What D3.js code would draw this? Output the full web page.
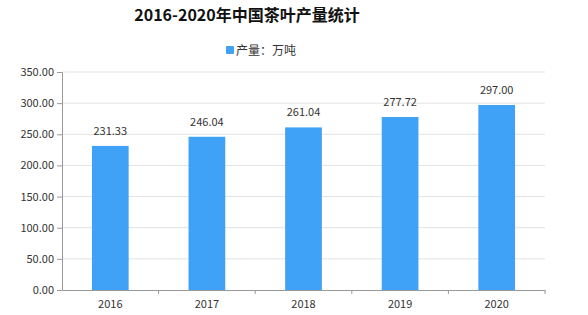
<!DOCTYPE html>
<html>
<head>
<meta charset="utf-8">
<script src="https://cdn.jsdelivr.net/npm/d3@7"></script>
<style>
body { margin: 0; background: #fff; }
text { font-family: "Noto Sans CJK SC", "DejaVu Sans", sans-serif; }
</style>
</head>
<body>
<div class="container"></div>
<script>
var years = ["2016", "2017", "2018", "2019", "2020"];
var output = [231.33, 246.04, 261.04, 277.72, 297.00];
var yTicks = [0, 50, 100, 150, 200, 250, 300, 350];

const WIDTH = 588;
const HEIGHT = 315;
const LEFT = 62, RIGHT = 545, TOP = 72, BOTTOM = 290;
const BAR_COLOR = "#3fa2f6";

var translate = function(x, y){
	return "translate(" + x + "," + y + ")";
};

var svg = d3.select('.container').append('svg')
	.attr('width', WIDTH)
	.attr('height', HEIGHT);

var xScale = d3.scaleBand()
	.domain(years)
	.range([LEFT, RIGHT]);

var yScale = d3.scaleLinear()
	.domain([0, 350])
	.range([BOTTOM, TOP]);

// title
svg.append('text')
	.attr('x', 247).attr('y', 21)
	.attr('text-anchor', 'middle')
	.style('font-size', '16px')
	.style('font-weight', 'bold')
	.attr('fill', '#111')
	.text('2016-2020年中国茶叶产量统计');

// legend
svg.append('rect')
	.attr('x', 226).attr('y', 46)
	.attr('width', 8).attr('height', 8)
	.attr('rx', 1)
	.attr('fill', BAR_COLOR);
svg.append('text')
	.attr('x', 236).attr('y', 55)
	.style('font-size', '12px')
	.attr('fill', '#333')
	.text('产量：万吨');

// grid
svg.append('g').selectAll('line').data(yTicks.slice(1))
	.enter().append('line')
	.attr('x1', LEFT).attr('x2', RIGHT)
	.attr('y1', function(d){ return yScale(d); })
	.attr('y2', function(d){ return yScale(d); })
	.attr('stroke', '#e3e3e3');

// y axis
var yAxis = d3.axisLeft(yScale)
	.tickValues(yTicks)
	.tickSize(5)
	.tickFormat(d3.format('.2f'));
var gy = svg.append('g')
	.attr('transform', translate(LEFT, 0))
	.call(yAxis);
gy.select('.domain').attr('stroke', '#999');
gy.selectAll('.tick line').attr('stroke', '#999');
gy.selectAll('.tick text')
	.style('font-size', '11px')
	.attr('fill', '#333')
	.attr('x', -8);

// x axis
var xAxis = d3.axisBottom(xScale).tickSize(0).tickPadding(10);
var gx = svg.append('g')
	.attr('transform', translate(0, BOTTOM))
	.call(xAxis);
gx.select('.domain').attr('stroke', '#999');
gx.selectAll('.tick text')
	.style('font-size', '11px')
	.attr('fill', '#333');
svg.append('g').selectAll('line').data(years)
	.enter().append('line')
	.attr('x1', function(d){ return xScale(d) + xScale.bandwidth(); })
	.attr('x2', function(d){ return xScale(d) + xScale.bandwidth(); })
	.attr('y1', BOTTOM).attr('y2', BOTTOM + 4)
	.attr('stroke', '#999');

// bars
var barW = xScale.bandwidth() * 0.38;
svg.append('g').selectAll('rect').data(output)
	.enter().append('rect')
	.attr('x', function(d, i){ return xScale(years[i]) + (xScale.bandwidth() - barW) / 2; })
	.attr('y', function(d){ return yScale(d); })
	.attr('width', barW)
	.attr('height', function(d){ return BOTTOM - yScale(d); })
	.attr('fill', BAR_COLOR);

// value labels
svg.append('g').selectAll('text').data(output)
	.enter().append('text')
	.attr('x', function(d, i){ return xScale(years[i]) + xScale.bandwidth() / 2; })
	.attr('y', function(d){ return yScale(d) - 11; })
	.attr('text-anchor', 'middle')
	.style('font-size', '11px')
	.attr('fill', '#333')
	.text(function(d){ return d3.format('.2f')(d); });
</script>
</body>
</html>
